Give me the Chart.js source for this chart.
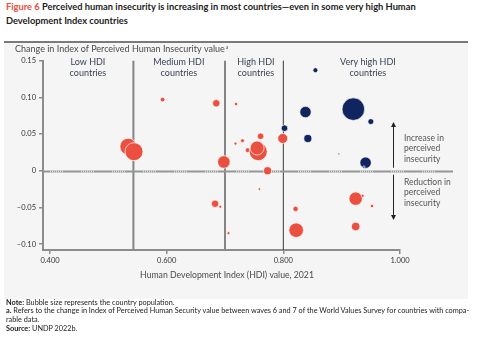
<!DOCTYPE html>
<html>
<head>
<meta charset="utf-8">
<script src="https://cdn.jsdelivr.net/npm/chart.js@4.4.1/dist/chart.umd.min.js"></script>
<style>
    body { margin: 0; width: 480px; height: 337px; background: #fff; position: relative; overflow: hidden; font-family: Lato, "Open Sans", sans-serif; }
    #title { position: absolute; left: 6px; top: 0; width: 430px; font-size: 9.3px; font-weight: bold; line-height: 13.5px; color: #1c1c1c; }
    #title .fig { color: #ee4b3b; }
    #panel { position: absolute; left: 4px; top: 41px; width: 464px; height: 256px; background: #f5f5f5; border-top: 2px solid #7a7a7a; }
    #wrap { position: absolute; left: 0; top: 44px; width: 480px; height: 256px; }
    #notes { position: absolute; left: 6px; top: 298.5px; width: 474px; font-size: 7.3px; line-height: 8.7px; color: #222; }
</style>
</head>
<body>
<div id="title"><span class="fig">Figure 6</span> Perceived human insecurity is increasing in most countries—even in some very high Human Development Index countries</div>
<div id="panel"></div>
<div id="wrap"><canvas id="chart" width="480" height="256"></canvas></div>
<div id="notes">
    <div><b>Note:</b> Bubble size represents the country population.</div>
    <div><b>a.</b> Refers to the change in Index of Perceived Human Security value between waves 6 and 7 of the World Values Survey for countries with compa-<br>rable data.</div>
    <div><b>Source:</b> UNDP 2022b.</div>
</div>
<script>
// HDI value, change in perceived insecurity, population (millions)
const redHdi = [0.593, 0.685, 0.719, 0.534, 0.544, 0.698, 0.718, 0.730, 0.739, 0.761, 0.757, 0.755,
    0.799, 0.773, 0.759, 0.683, 0.692, 0.706, 0.821, 0.822, 0.924, 0.936, 0.952, 0.924];
const redChange = [0.097, 0.092, 0.091, 0.033, 0.026, 0.012, 0.037, 0.041, 0.028, 0.047, 0.026, 0.031,
    0.044, 0.000, -0.025, -0.045, -0.049, -0.085, -0.052, -0.081, -0.038, -0.034, -0.048, -0.076];
const redPop = [14, 36, 7.5, 180, 211, 103, 6, 10, 16, 28, 211, 127,
    65, 42, 4.4, 36, 6, 6, 19, 139, 117, 6, 7.5, 48];

const navyHdi = [0.855, 0.920, 0.838, 0.950, 0.802, 0.842, 0.895, 0.941, 0.938];
const navyChange = [0.137, 0.084, 0.080, 0.067, 0.058, 0.044, 0.023, 0.011, 0.005];
const navyPop = [16, 332, 85, 23, 28, 42, 1.7, 85, 3.7];

const hdiThresholds = [0.543, 0.700, 0.800];
const groupNames = [['Low HDI', 'countries'], ['Medium HDI', 'countries'], ['High HDI', 'countries'], ['Very high HDI', 'countries']];
const xTicks = [0.4, 0.6, 0.8, 1.0];
const yTicks = [0.15, 0.10, 0.05, 0, -0.05, -0.10];

const RED = '#eb4f3f';
const NAVY = '#10245f';
const FONT = 'Lato, "Open Sans", sans-serif';

function toPoints(xs, ys, pops) {
    return xs.map((x, i) => ({ x: x, y: ys[i], r: 0.62 * Math.sqrt(pops[i]) }));
}

const annotations = {
    id: 'annotations',
    beforeDatasetsDraw(chart) {
        const { ctx, chartArea, scales } = chart;
        const x = scales.x, y = scales.y;
        ctx.save();
        // group boundaries
        hdiThresholds.forEach((t, i) => {
            const px = x.getPixelForValue(t);
            ctx.beginPath();
            ctx.strokeStyle = i < 2 ? '#858585' : '#3a3a3a';
            ctx.lineWidth = i < 2 ? 2 : 1;
            ctx.moveTo(px, y.getPixelForValue(0.15));
            ctx.lineTo(px, chartArea.bottom);
            ctx.stroke();
        });
        // zero line
        const y0 = Math.round(y.getPixelForValue(0)) + 0.5;
        const xEnd = 453;
        ctx.beginPath();
        ctx.strokeStyle = '#959595';
        ctx.lineWidth = 2;
        ctx.moveTo(chartArea.left, y0);
        ctx.lineTo(xEnd, y0);
        ctx.stroke();
        ctx.strokeStyle = '#dcdcdc';
        ctx.lineWidth = 2;
        ctx.setLineDash([1, 1]);
        for (let sx = chartArea.left + 5; sx < xEnd - 10; sx += 31) {
            ctx.beginPath();
            ctx.moveTo(sx + 2, y0);
            ctx.lineTo(sx + 15, y0);
            ctx.stroke();
        }
        ctx.restore();
    },
    afterDatasetsDraw(chart) {
        const { ctx, scales } = chart;
        const x = scales.x, y = scales.y;
        ctx.save();
        ctx.textBaseline = 'middle';

        // group labels
        const groupX = [0.465, 0.621, 0.753, 0.945];
        ctx.font = '9px ' + FONT;
        ctx.fillStyle = '#3b4256';
        ctx.textAlign = 'center';
        groupNames.forEach((lines, i) => {
            lines.forEach((l, j) => ctx.fillText(l, x.getPixelForValue(groupX[i]), 18 + j * 10.6));
        });

        // arrows
        const ax = 393.5;
        const y0 = y.getPixelForValue(0);
        ctx.strokeStyle = '#222';
        ctx.fillStyle = '#222';
        ctx.lineWidth = 1;
        ctx.beginPath();
        ctx.moveTo(ax, y0 - 3);
        ctx.lineTo(ax, 82);
        ctx.moveTo(ax, y0 + 4);
        ctx.lineTo(ax, 171);
        ctx.stroke();
        ctx.beginPath();
        ctx.moveTo(ax, 78);
        ctx.lineTo(ax - 2.5, 83);
        ctx.lineTo(ax + 2.5, 83);
        ctx.closePath();
        ctx.fill();
        ctx.beginPath();
        ctx.moveTo(ax, 176);
        ctx.lineTo(ax - 2.5, 171);
        ctx.lineTo(ax + 2.5, 171);
        ctx.closePath();
        ctx.fill();

        ctx.font = '8.5px ' + FONT;
        ctx.fillStyle = '#555';
        ctx.textAlign = 'left';
        ['Increase in', 'perceived', 'insecurity'].forEach((l, j) => ctx.fillText(l, 404, 94.5 + j * 10.2));
        ['Reduction in', 'perceived', 'insecurity'].forEach((l, j) => ctx.fillText(l, 404, 138.5 + j * 10.2));

        // axis titles
        ctx.font = '9px ' + FONT;
        ctx.fillStyle = '#4a4a4a';
        const yTitle = 'Change in Index of Perceived Human Insecurity value';
        ctx.fillText(yTitle, 15, 5);
        const w = ctx.measureText(yTitle).width;
        ctx.font = '5px ' + FONT;
        ctx.fillText('a', 15 + w + 1, 3);
        ctx.font = '8.7px ' + FONT;
        ctx.textAlign = 'center';
        ctx.fillText('Human Development Index (HDI) value, 2021', 227, 231);
        ctx.restore();
    }
};

document.addEventListener('DOMContentLoaded', function () {
    const ctx = document.getElementById('chart');

    new Chart(ctx, {
        type: 'bubble',
        data: {
            datasets: [{
                label: 'Very high HDI, increase',
                data: toPoints(navyHdi, navyChange, navyPop),
                backgroundColor: NAVY,
                borderColor: '#ffffff',
                borderWidth: 0.7
            }, {
                label: 'Other countries',
                data: toPoints(redHdi, redChange, redPop),
                backgroundColor: RED,
                borderColor: '#ffffff',
                borderWidth: 0.7
            }]
        },
        options: {
            responsive: false,
            animation: false,
            layout: { padding: { top: 16.7, right: 80, left: 0, bottom: 0 } },
            plugins: {
                legend: { display: false },
                tooltip: { enabled: false }
            },
            scales: {
                x: {
                    type: 'linear',
                    min: 0.388,
                    max: 1.0,
                    afterBuildTicks: s => { s.ticks = xTicks.map(v => ({ value: v })); },
                    afterFit: s => { s.height = 50; },
                    border: { color: '#8c8c8c', width: 2 },
                    grid: { drawOnChartArea: false, drawTicks: true, tickLength: 4, color: '#8c8c8c', lineWidth: 1.5 },
                    ticks: {
                        padding: 2,
                        color: '#333',
                        font: { family: FONT, size: 7.5 },
                        maxRotation: 0,
                        callback: v => v.toFixed(3)
                    }
                },
                y: {
                    type: 'linear',
                    min: -0.108,
                    max: 0.15,
                    afterBuildTicks: s => { s.ticks = yTicks.map(v => ({ value: v })); },
                    afterFit: s => { s.width = 43; },
                    border: { color: '#8c8c8c', width: 2 },
                    grid: { drawOnChartArea: false, drawTicks: true, tickLength: 4, color: '#8c8c8c', lineWidth: 1.5 },
                    ticks: {
                        padding: 3,
                        color: '#333',
                        font: { family: FONT, size: 7.5 },
                        callback: v => v === 0 ? '0' : (v < 0 ? '\u2013' : '') + Math.abs(v).toFixed(2)
                    }
                }
            }
        },
        plugins: [annotations]
    });
});
</script>
</body>
</html>
